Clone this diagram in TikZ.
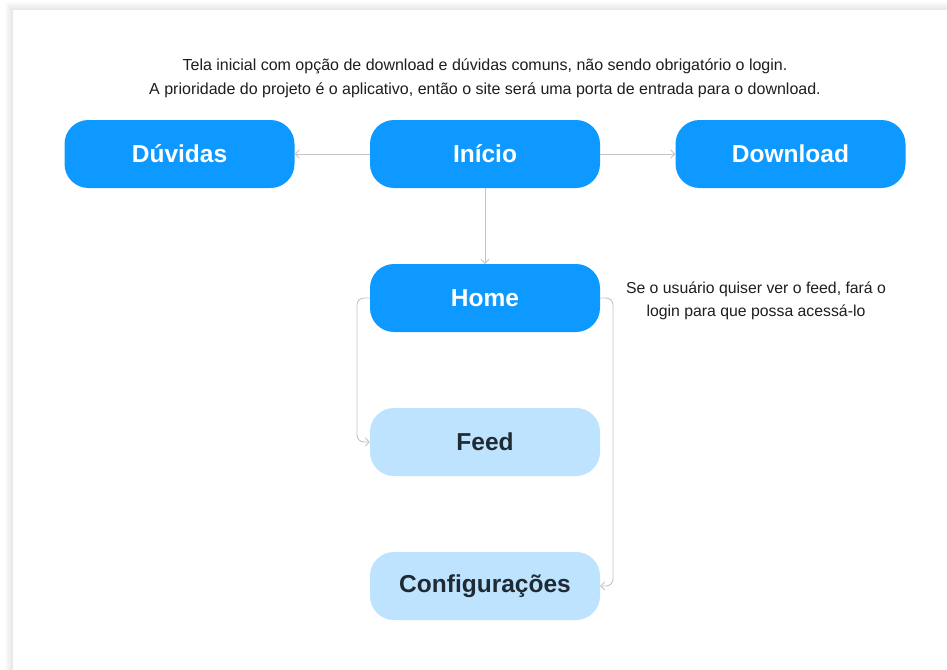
\documentclass[tikz,border=0pt]{standalone}
\usepackage{fontspec}
\setmainfont{Liberation Sans}
\usetikzlibrary{arrows.meta}
\definecolor{figblue}{HTML}{0D99FF}
\definecolor{figlight}{HTML}{BDE3FF}
\definecolor{linegray}{HTML}{C4C4C4}
\definecolor{darktext}{HTML}{1F2A33}
\definecolor{bodytext}{HTML}{1E1E1E}
\tikzset{
  box/.style={rounded corners=24pt, minimum width=230pt, minimum height=68pt, inner sep=0pt,
    font=\fontsize{24.5}{28}\selectfont\bfseries},
  darkbox/.style={box, fill=figblue, text=white},
  lightbox/.style={box, fill=figlight, text=darktext},
  conn/.style={draw=linegray, line width=0.9pt, -{Straight Barb[length=4pt,width=8pt]}, rounded corners=7pt},
  note/.style={text=bodytext, font=\fontsize{16}{24}\selectfont, align=center, inner sep=0pt}
}
\begin{document}
\begin{tikzpicture}[x=1pt,y=-1pt]
\useasboundingbox (0,0) rectangle (947,669);
\fill[white] (0,0) rectangle (947,669);
% card shadow
\foreach \i in {1,...,8}{
  \fill[black,opacity=0.012] (13-\i,10-\i) rectangle (960,680);
}
\fill[white] (13,10) rectangle (960,680);

\node[note] (head) at (485,78) {Tela inicial com opção de download e dúvidas comuns, não sendo obrigatório o login.\\A prioridade do projeto é o aplicativo, então o site será uma porta de entrada para o download.};

\node[darkbox] (duvidas) at (179.5,154) {Dúvidas};
\node[darkbox] (inicio) at (485,154) {Início};
\node[darkbox] (download) at (790.5,154) {Download};
\node[darkbox] (home) at (485,298) {Home};
\node[lightbox] (feed) at (485,442) {Feed};
\node[lightbox] (config) at (485,586) {Configurações};

\node[note, font=\fontsize{15.8}{23}\selectfont] (side) at (756,300.5) {Se o usuário quiser ver o feed, fará o\\login para que possa acessá-lo};

\draw[conn] (inicio.west) -- (duvidas.east);
\draw[conn] (inicio.east) -- (download.west);
\draw[conn] (inicio.south) -- (home.north);
\coordinate (lft) at (357,0);
\coordinate (rgt) at (613,0);
\draw[conn] (home.west) -- (home.west -| lft) -- (feed.west -| lft) -- (feed.west);
\draw[conn] (home.east) -- (home.east -| rgt) -- (config.east -| rgt) -- (config.east);
\end{tikzpicture}
\end{document}
